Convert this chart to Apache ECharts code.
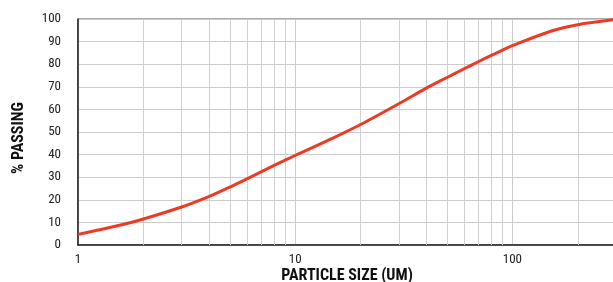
<!DOCTYPE html>
<html>
<head>
<meta charset="utf-8">
<script src="https://cdn.jsdelivr.net/npm/echarts@6/dist/echarts.min.js"></script>
<style>
html,body{margin:0;padding:0;background:#fff;}
#c{width:613px;height:282px;}
</style>
</head>
<body>
<div id="c"></div>
<script>
const particleSize = [1, 1.5, 2, 3, 4, 5, 6, 8, 10, 15, 20, 30, 40, 50, 60, 70, 80, 90, 100, 150, 200, 300];
const percentPassing = [4.7, 8.4, 11.5, 16.8, 21.4, 25.6, 29.3, 35.2, 39.6, 47.4, 53.3, 62.5, 69.3, 74.1, 78.0, 81.2, 83.9, 86.2, 88.2, 94.6, 97.5, 99.8];
const minorGridX = [2, 3, 4, 5, 6, 7, 8, 9, 20, 30, 40, 50, 60, 70, 80, 90, 200];
const yTicks = [0, 10, 20, 30, 40, 50, 60, 70, 80, 90, 100];

const FONT = "'Roboto Condensed', 'Roboto', sans-serif";
const chart = echarts.init(document.getElementById('c'), null, {renderer: 'canvas'});
chart.setOption({
  animation: false,
  grid: {left: 78, right: -3, top: 19, bottom: 37, outerBoundsMode: 'none', containLabel: false,
         show: true, borderColor: '#555', borderWidth: 1, backgroundColor: 'transparent'},
  xAxis: {
    type: 'log', logBase: 10, min: 1, max: 300,
    name: 'PARTICLE SIZE (UM)', nameLocation: 'middle', nameGap: 23, nameMoveOverlap: false,
    nameTextStyle: {fontFamily: FONT, fontWeight: 'bold', fontSize: 16, color: '#111'},
    axisLine: {show: true, lineStyle: {color: '#222', width: 1.5}},
    axisTick: {show: false},
    axisLabel: {fontFamily: FONT, fontSize: 13, color: '#222', margin: 8, showMaxLabel: false},
    splitLine: {show: true, lineStyle: {color: '#cccccc', width: 1}}
  },
  yAxis: {
    type: 'value', min: yTicks[0], max: yTicks[yTicks.length - 1], interval: 10,
    name: '% PASSING', nameLocation: 'middle', nameGap: 51, nameMoveOverlap: false,
    nameTextStyle: {fontFamily: FONT, fontWeight: 'bold', fontSize: 16, color: '#111', padding: [0, 12, 0, 0]},
    axisLine: {show: true, lineStyle: {color: '#222', width: 1.5}},
    axisTick: {show: false},
    axisLabel: {fontFamily: FONT, fontSize: 13, color: '#222', margin: 17},
    splitLine: {show: true, lineStyle: {color: '#cccccc', width: 1}}
  },
  series: [
    {
      type: 'line', data: [], z: 1, silent: true,
      markLine: {
        z: 1, silent: true, symbol: ['none', 'none'], label: {show: false},
        lineStyle: {color: '#d0d0d0', type: 'solid', width: 1},
        data: minorGridX.map(v => ({xAxis: v}))
      }
    },
    {
      type: 'line', z: 3,
      data: particleSize.map((x, i) => [x, percentPassing[i]]),
      smooth: 0.3, showSymbol: false,
      lineStyle: {color: '#ec3b25', width: 3}
    }
  ]
});
</script>
</body>
</html>
